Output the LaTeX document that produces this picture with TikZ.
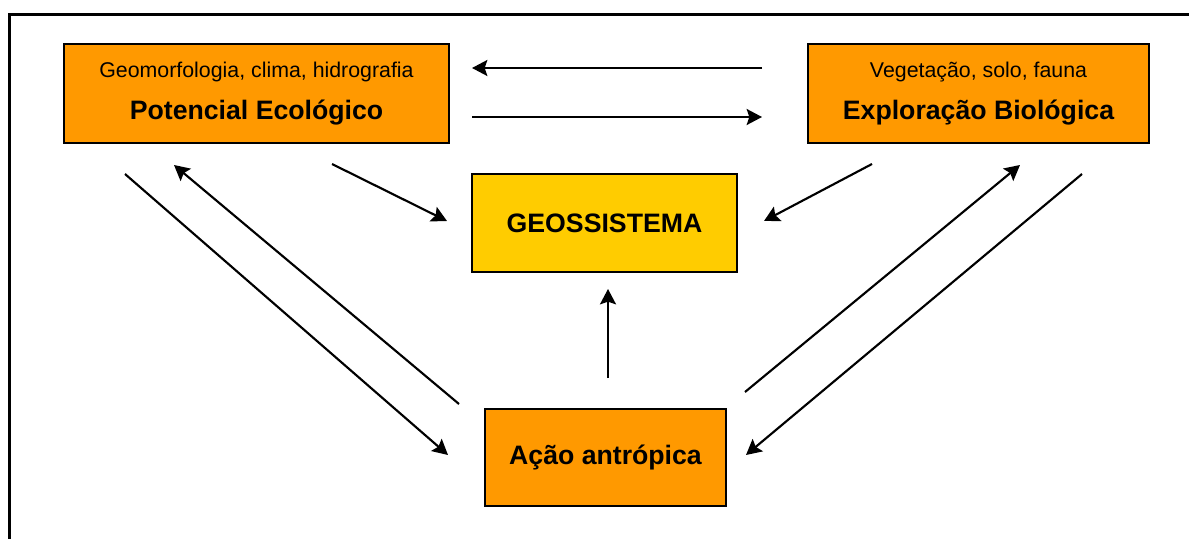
\documentclass[tikz,border=0pt]{standalone}
\usepackage{fontspec}
\setmainfont{Liberation Sans}
\usepackage{xcolor}
\usetikzlibrary{arrows.meta}
\usetikzlibrary{positioning}
\definecolor{laranja}{HTML}{FF9900}
\definecolor{amarelo}{HTML}{FFCC00}
\tikzset{
  geonode/.style = {align=center, inner sep=0pt, text centered, rectangle,
    draw=black, line width=1.5pt, font=\fontsize{20}{31.5}\selectfont\bfseries},
  geo_l/.style = {geonode, fill=laranja},% caixa laranja
  geo_a/.style = {geonode, fill=amarelo},% caixa amarela, geossistema
  geo_f/.style = {line width=2.25pt, line cap=rect}% moldura
}
\newcommand{\subtxt}[1]{{\fontsize{16}{19}\selectfont\mdseries #1}}

\begin{document}
\begin{tikzpicture}[x=0.75pt,y=-0.75pt,line width=1.6pt,
  >={Stealth[length=11.5pt,width=12pt,inset=2pt]}]
\useasboundingbox (0,0) rectangle (1189,539);
\draw [geo_f] (9,539) -- (9,14) -- (1189,14);

\node [geo_l, minimum width=288.75pt, minimum height=74.25pt] (pot) at (256.5,93.5)
  {\subtxt{Geomorfologia, clima, hidrografia}\\Potencial Ecológico};
\node [geo_l, minimum width=255.75pt, minimum height=74.25pt] (exp) at (978.5,93.5)
  {\subtxt{Vegetação, solo, fauna}\\Exploração Biológica};
\node [geo_a, minimum width=198.75pt, minimum height=73.5pt] (geo) at (604.5,223) {GEOSSISTEMA};
\node [geo_l, minimum width=180.75pt, minimum height=72.75pt] (acao) at (605.5,457.5) {Ação antrópica};

% pontas livres das setas
\coordinate (pe_a) at (472,68);   \coordinate (eb_a) at (762,68);
\coordinate (pe_b) at (472,117);  \coordinate (eb_b) at (762,117);
\coordinate (pe_g) at (332,164);  \coordinate (g_pe) at (447,221);
\coordinate (eb_g) at (872,164);  \coordinate (g_eb) at (764,221);
\coordinate (ac_g) at (608,378);  \coordinate (g_ac) at (608,289);
\coordinate (pe_1) at (125,174);  \coordinate (ac_1) at (448,455);
\coordinate (ac_2) at (459,404);  \coordinate (pe_2) at (174,165);
\coordinate (ac_3) at (745,392);  \coordinate (eb_3) at (1020,165);
\coordinate (eb_4) at (1082,174); \coordinate (ac_4) at (746,455);

\draw [->] (eb_a) -- (pe_a);
\draw [->] (pe_b) -- (eb_b);
\draw [->] (pe_g) -- (g_pe);
\draw [->] (eb_g) -- (g_eb);
\draw [->] (ac_g) -- (g_ac);
\draw [->] (pe_1) -- (ac_1);
\draw [->] (ac_2) -- (pe_2);
\draw [->] (ac_3) -- (eb_3);
\draw [->] (eb_4) -- (ac_4);
\end{tikzpicture}
\end{document}
